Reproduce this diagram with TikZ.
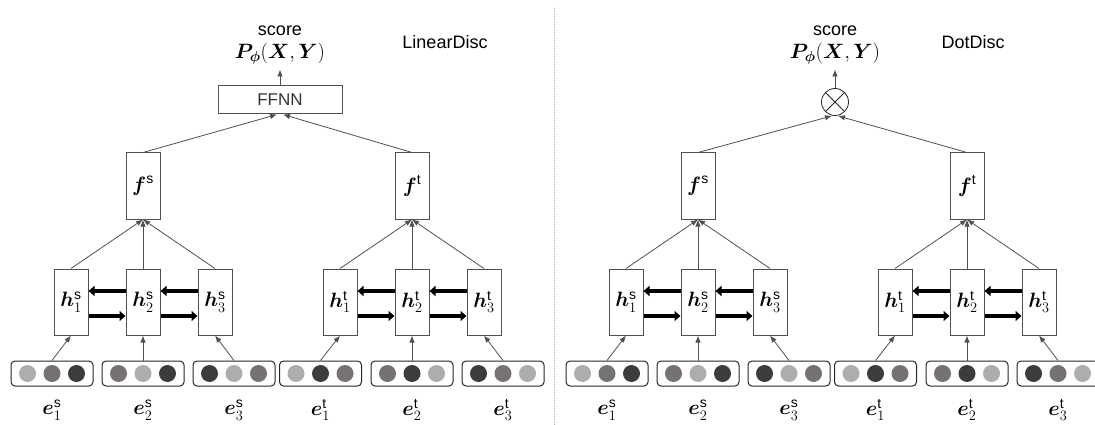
\documentclass[tikz,border=0pt]{standalone}
\usepackage{amsmath,bm}
\usepackage{fontspec}
\setmainfont{Liberation Sans}
\usetikzlibrary{arrows.meta}
\definecolor{cLight}{HTML}{ADADAD}
\definecolor{cMid}{HTML}{767272}
\definecolor{cDark}{HTML}{3C3C3C}
\definecolor{cLine}{HTML}{505050}
\tikzset{
  vecbox/.style={draw=cLine, line width=1pt, fill=white, minimum width=34pt,
    minimum height=66pt, inner sep=0pt, font=\fontsize{20}{24}\selectfont},
  embbox/.style={draw=black!85, line width=1pt, rounded corners=4pt,
    minimum width=82pt, minimum height=25pt},
  dot/.style={circle, minimum size=17pt, inner sep=0pt},
  thin/.style={draw=cLine, line width=0.8pt, -{Latex[length=7pt,width=5.5pt]}},
  rnn/.style={line width=4pt, -{Triangle[length=6pt,width=10pt]}},
  txt/.style={font=\fontsize{18}{22}\selectfont},
  mathlbl/.style={font=\fontsize{20}{24}\selectfont},
}
\begin{document}
\begin{tikzpicture}[x=1pt, y=-1pt]
  \clip (0,0) rectangle (1095,425);
  % divider
  \draw[gray!60, densely dotted, line width=1pt] (554,8) -- (554,425);
  % both panels: embeddings, encoders, pooled vectors
  \foreach \p/\dx in {L/0, R/555} {
    \begin{scope}[xshift=\dx]
      \foreach \i/\sd/\x/\hx/\ca/\cb/\cc in {
          1/s/52/71/cLight/cMid/cDark,
          2/s/143/143/cMid/cLight/cDark,
          3/s/234/215/cDark/cLight/cMid,
          1/t/320.5/340/cLight/cDark/cMid,
          2/t/412/412/cMid/cDark/cLight,
          3/t/503/484/cDark/cMid/cLight} {
        \node[embbox] (e\i\sd\p) at (\x,373.5) {};
        \node[dot, fill=\ca] (c\i\sd\p a) at ([xshift=-24.5pt]e\i\sd\p.center) {};
        \node[dot, fill=\cb] (c\i\sd\p b) at (e\i\sd\p.center) {};
        \node[dot, fill=\cc] (c\i\sd\p c) at ([xshift=24.5pt]e\i\sd\p.center) {};
        \node[mathlbl] (l\i\sd\p) at (\x,410) {$\bm{e}_{\i}^{\mathrm{\sd}}$};
        \node[vecbox] (h\i\sd\p) at (\hx,302) {$\bm{h}_{\i}^{\mathrm{\sd}}$};
        \draw[thin] (e\i\sd\p.north) -- (h\i\sd\p.south);
      }
      % recurrent links
      \foreach \sd in {s,t} {
        \foreach \a/\b in {1/2, 2/3} {
          \draw[rnn] ([yshift=11pt]h\b\sd\p.west) -- ([yshift=11pt]h\a\sd\p.east);
          \draw[rnn] ([yshift=-14pt]h\a\sd\p.east) -- ([yshift=-14pt]h\b\sd\p.west);
        }
      }
      % pooled vectors
      \node[vecbox] (fs\p) at (143,186) {$\bm{f}^{\mathrm{s}}$};
      \node[vecbox] (ft\p) at (412,186) {$\bm{f}^{\mathrm{t}}$};
      \foreach \i in {1,2,3} {
        \draw[thin] (h\i s\p.north) -- (fs\p.south);
        \draw[thin] (h\i t\p.north) -- (ft\p.south);
      }
      % output
      \node[txt, align=center, inner sep=1pt] (score\p) at (280,45)
        {score\\[1pt]\fontsize{20}{24}\selectfont$\bm{P}_{\bm{\phi}}(\bm{X},\bm{Y})$};
    \end{scope}
  }
  % LinearDisc
  \node[draw=cLine, line width=1pt, minimum width=124pt, minimum height=28pt,
    inner sep=0pt, text=black!80, font=\fontsize{17}{20}\selectfont] (ffnn) at (280,100) {FFNN};
  \draw[thin] (fsL.north) -- ([xshift=-3pt]ffnn.south);
  \draw[thin] (ftL.north) -- ([xshift=3pt]ffnn.south);
  \draw[thin, shorten >=4pt] (ffnn.north) -- (scoreL.south);
  \node[txt] (title1) at (445,42) {LinearDisc};
  % DotDisc
  \node[circle, draw=black!85, line width=0.8pt, minimum size=27pt, inner sep=0pt] (prod) at (835,102) {};
  \draw[black!85, line width=0.8pt] (prod.north west) -- (prod.south east);
  \draw[black!85, line width=0.8pt] (prod.north east) -- (prod.south west);
  \draw[thin] (fsR.north) -- ([xshift=-3pt]prod.south);
  \draw[thin] (ftR.north) -- ([xshift=3pt]prod.south);
  \draw[thin, shorten >=4pt] (prod.north) -- (scoreR.south);
  \node[txt] (title2) at (973,42) {DotDisc};
\end{tikzpicture}
\end{document}
